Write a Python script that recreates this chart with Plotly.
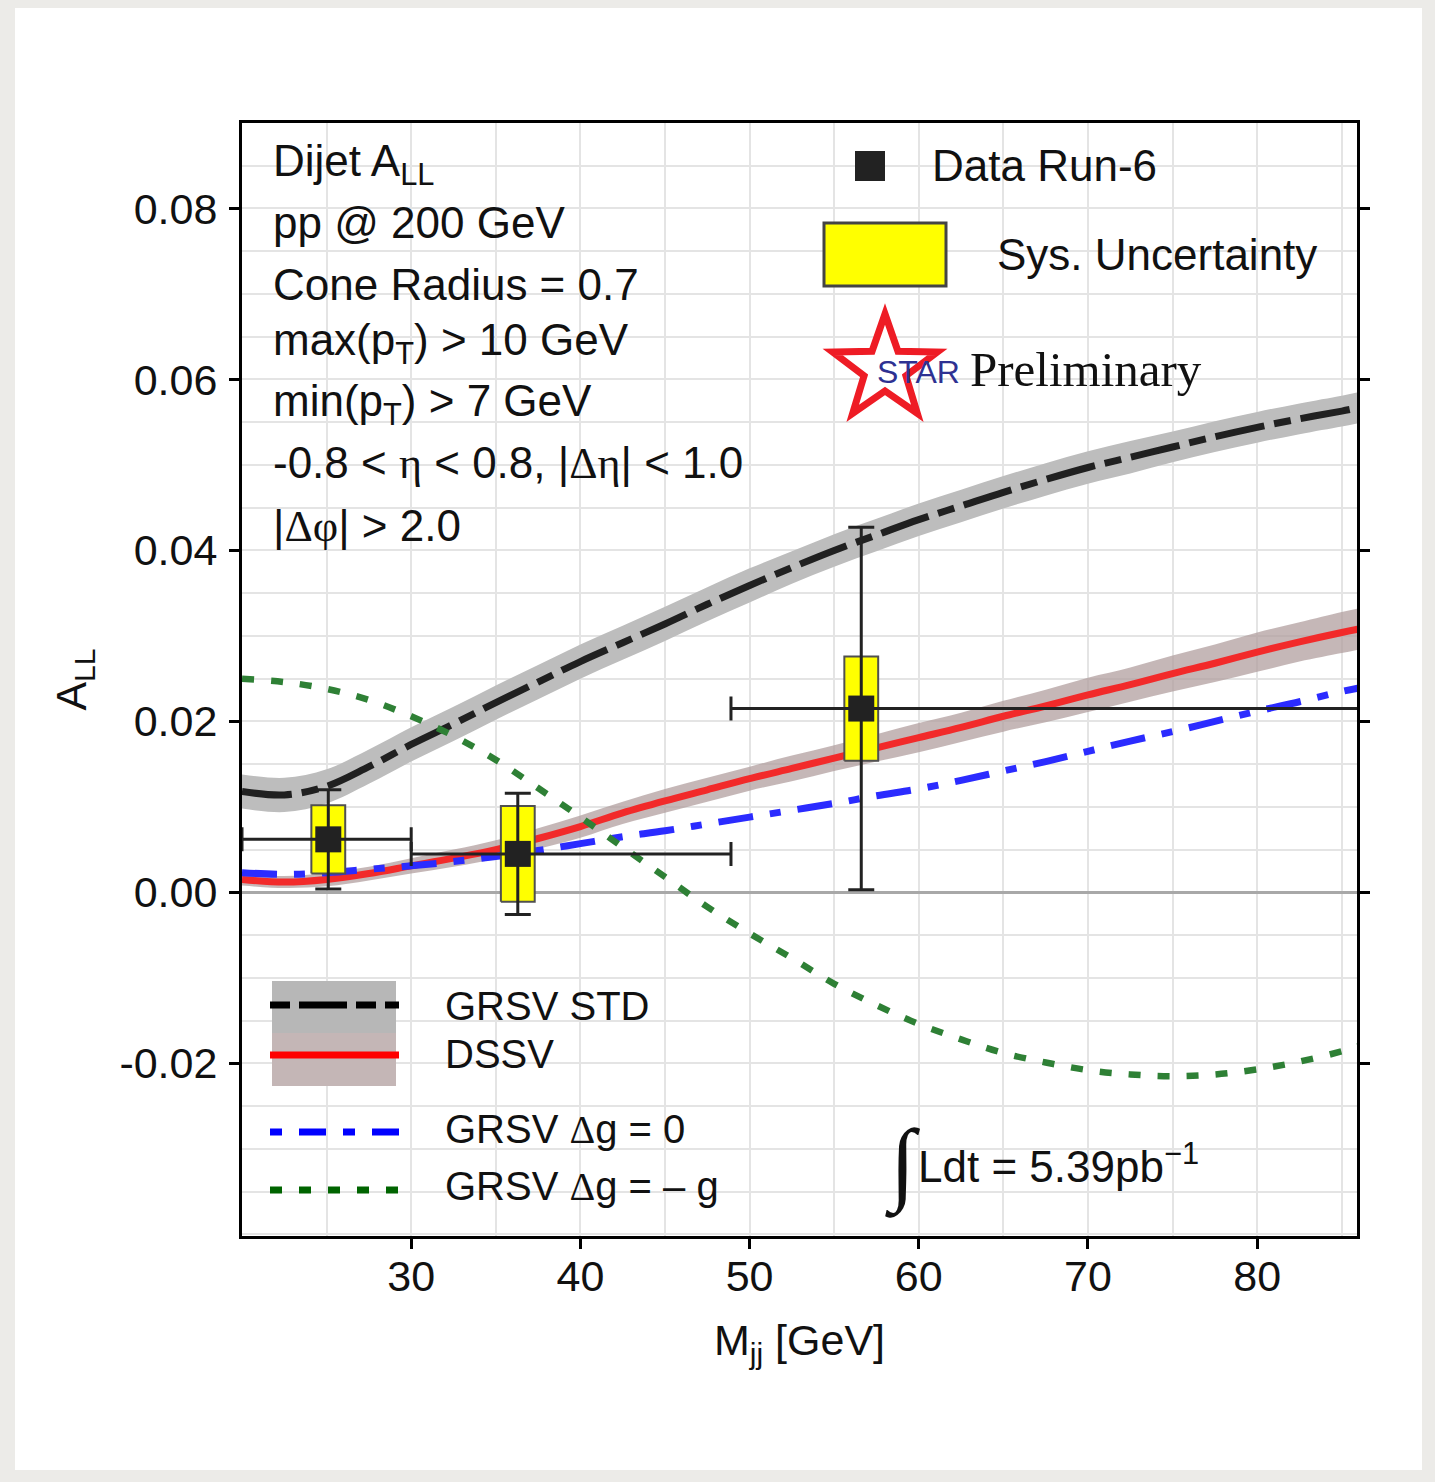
import math
import plotly.graph_objects as go

# ---------------- data ----------------
m_grid = [20, 22.5, 25, 27.5, 30, 32.5, 35, 37.5, 40, 42.5, 45, 47.5, 50, 52.5,
          55, 57.5, 60, 62.5, 65, 67.5, 70, 72.5, 75, 77.5, 80, 82.5, 85, 86]

grsv_std = [0.0118, 0.0114, 0.0124, 0.0147, 0.0173, 0.0197, 0.0222, 0.0246, 0.0270, 0.0292,
            0.0314, 0.0337, 0.0359, 0.0380, 0.0400, 0.0418, 0.0436, 0.0452, 0.0468, 0.0483,
            0.0497, 0.0509, 0.0521, 0.0533, 0.0544, 0.0554, 0.0563, 0.0567]
grsv_std_err = [0.0020, 0.0020, 0.0020, 0.0020, 0.0020, 0.0020, 0.0020, 0.0020, 0.0020, 0.0020,
                0.0020, 0.0020, 0.0020, 0.0019, 0.0019, 0.0019, 0.0019, 0.0019, 0.0019, 0.0019,
                0.0019, 0.0019, 0.0018, 0.0018, 0.0018, 0.0018, 0.0018, 0.0018]

dssv = [0.0015, 0.0012, 0.0015, 0.0022, 0.0031, 0.0040, 0.0050, 0.0063, 0.0077, 0.0093,
        0.0107, 0.0120, 0.0133, 0.0145, 0.0157, 0.0169, 0.0181, 0.0193, 0.0206, 0.0218,
        0.0231, 0.0243, 0.0256, 0.0268, 0.0281, 0.0293, 0.0304, 0.0308]
dssv_err = [0.0007, 0.0007, 0.0008, 0.0008, 0.0009, 0.0010, 0.0011, 0.0012, 0.0013, 0.0013,
            0.0014, 0.0014, 0.0014, 0.0015, 0.0015, 0.0016, 0.0017, 0.0017, 0.0018, 0.0019,
            0.0020, 0.0020, 0.0021, 0.0022, 0.0023, 0.0023, 0.0024, 0.0024]

grsv_g0 = [0.0023, 0.0021, 0.0023, 0.0027, 0.0031, 0.0036, 0.0042, 0.0049, 0.0057, 0.0065,
           0.0072, 0.0080, 0.0088, 0.0096, 0.0104, 0.0113, 0.0121, 0.0131, 0.0142, 0.0153,
           0.0165, 0.0177, 0.0188, 0.0200, 0.0212, 0.0223, 0.0235, 0.0239]

grsv_gneg = [0.0250, 0.0246, 0.0238, 0.0225, 0.0206, 0.0183, 0.0155, 0.0122, 0.0088, 0.0053,
             0.0018, -0.0017, -0.0048, -0.0077, -0.0107, -0.0132, -0.0154, -0.0172, -0.0188, -0.0199,
             -0.0208, -0.0213, -0.0215, -0.0213, -0.0207, -0.0198, -0.0186, -0.0180]

data_m = [25.1, 36.3, 56.6]
data_all = [0.0062, 0.0045, 0.0215]
data_stat = [0.0058, 0.0071, 0.0212]
data_sys = [0.0040, 0.0056, 0.0061]
bin_lo = [20.0, 30.0, 48.9]
bin_hi = [30.0, 48.9, 86.0]
sys_halfwidth = 1.0

x_ticks = [30, 40, 50, 60, 70, 80]
y_ticks = [-0.02, 0.0, 0.02, 0.04, 0.06, 0.08]

GREEK = "<span style='font-family:Liberation Serif'>{}</span>"
info_lines = [
    "Dijet A<sub>LL</sub>",
    "pp @ 200 GeV",
    "Cone Radius = 0.7",
    "max(p<sub>T</sub>) &gt; 10 GeV",
    "min(p<sub>T</sub>) &gt; 7 GeV",
    "-0.8 &lt; " + GREEK.format("η") + " &lt; 0.8, |" + GREEK.format("Δη") + "| &lt; 1.0",
    "|" + GREEK.format("Δφ") + "| &gt; 2.0",
]

# ---------------- layout geometry ----------------
W, H = 1435, 1482
L, R, T, B = 242, 1357, 123, 1236
SANS = "Liberation Sans, Arial, Helvetica, sans-serif"
SERIF = "Liberation Serif, Times New Roman, serif"


def fx(p):
    return (p - L) / (R - L)


def fy(p):
    return (B - p) / (B - T)


fig = go.Figure()

# bands
lo = [v - e for v, e in zip(grsv_std, grsv_std_err)]
hi = [v + e for v, e in zip(grsv_std, grsv_std_err)]
fig.add_trace(go.Scatter(x=m_grid, y=lo, mode="lines", line=dict(width=0, shape="spline"),
                         hoverinfo="skip", showlegend=False))
fig.add_trace(go.Scatter(x=m_grid, y=hi, mode="lines", line=dict(width=0, shape="spline"),
                         fill="tonexty", fillcolor="#BDBDBD", hoverinfo="skip", showlegend=False))
lo = [v - e for v, e in zip(dssv, dssv_err)]
hi = [v + e for v, e in zip(dssv, dssv_err)]
fig.add_trace(go.Scatter(x=m_grid, y=lo, mode="lines", line=dict(width=0, shape="spline"),
                         hoverinfo="skip", showlegend=False))
fig.add_trace(go.Scatter(x=m_grid, y=hi, mode="lines", line=dict(width=0, shape="spline"),
                         fill="tonexty", fillcolor="rgba(175,155,155,0.72)", hoverinfo="skip",
                         showlegend=False))

# theory curves
fig.add_trace(go.Scatter(x=m_grid, y=grsv_std, mode="lines", name="GRSV STD",
                         line=dict(color="#202020", width=7, dash="50px,10px,17px,10px", shape="spline")))
fig.add_trace(go.Scatter(x=m_grid, y=dssv, mode="lines", name="DSSV",
                         line=dict(color="#F22A2A", width=7, shape="spline")))
fig.add_trace(go.Scatter(x=m_grid, y=grsv_g0, mode="lines", name="GRSV Δg = 0",
                         line=dict(color="#2B2BFF", width=7, dash="35px,17px,11px,17px", shape="spline")))
fig.add_trace(go.Scatter(x=m_grid, y=grsv_gneg, mode="lines", name="GRSV Δg = -g",
                         line=dict(color="#2E8035", width=6.5, dash="12px,17px", shape="spline")))

# systematic boxes
for xc, yc, s in zip(data_m, data_all, data_sys):
    xs = [xc - sys_halfwidth, xc + sys_halfwidth, xc + sys_halfwidth, xc - sys_halfwidth, xc - sys_halfwidth]
    ys = [yc - s, yc - s, yc + s, yc + s, yc - s]
    fig.add_trace(go.Scatter(x=xs, y=ys, mode="lines", fill="toself", fillcolor="#FFFF00",
                             line=dict(color="#505050", width=2), hoverinfo="skip", showlegend=False))

# data points
fig.add_trace(go.Scatter(
    x=data_m, y=data_all, mode="markers", name="Data Run-6",
    marker=dict(symbol="square", size=26, color="#222222"),
    error_y=dict(type="data", array=data_stat, color="#222222", thickness=3, width=13),
    error_x=dict(type="data", symmetric=False,
                 array=[h - m for h, m in zip(bin_hi, data_m)],
                 arrayminus=[m - l for m, l in zip(data_m, bin_lo)],
                 color="#222222", thickness=3, width=12),
))

# ---------------- shapes ----------------
shapes = []
# white card
shapes.append(dict(type="rect", xref="paper", yref="paper", x0=fx(15), x1=fx(1422), y0=fy(8), y1=fy(1470),
                   fillcolor="white", line=dict(width=0), layer="below"))
# legend backgrounds hiding the grid
shapes.append(dict(type="rect", xref="paper", yref="paper", x0=fx(244), x1=fx(419), y0=fy(980), y1=fy(1086),
                   fillcolor="white", line=dict(width=0), layer="between"))
shapes.append(dict(type="rect", xref="paper", yref="paper", x0=fx(244), x1=fx(732), y0=fy(1107), y1=fy(1152),
                   fillcolor="white", line=dict(width=0), layer="between"))
# bottom-left legend keys
shapes.append(dict(type="rect", xref="paper", yref="paper", x0=fx(272), x1=fx(396), y0=fy(981), y1=fy(1033),
                   fillcolor="#B7B7B7", line=dict(width=0), layer="above"))
shapes.append(dict(type="rect", xref="paper", yref="paper", x0=fx(272), x1=fx(396), y0=fy(1033), y1=fy(1086),
                   fillcolor="#C4B6B6", line=dict(width=0), layer="above"))
shapes.append(dict(type="line", xref="paper", yref="paper", x0=fx(270), x1=fx(399), y0=fy(1005), y1=fy(1005),
                   line=dict(color="#000000", width=7, dash="20px,9px,48px,9px"), layer="above"))
shapes.append(dict(type="line", xref="paper", yref="paper", x0=fx(270), x1=fx(399), y0=fy(1055), y1=fy(1055),
                   line=dict(color="#FF0000", width=7), layer="above"))
shapes.append(dict(type="line", xref="paper", yref="paper", x0=fx(270), x1=fx(399), y0=fy(1132), y1=fy(1132),
                   line=dict(color="#0000FF", width=7, dash="12px,17px,27px,17px"), layer="above"))
shapes.append(dict(type="line", xref="paper", yref="paper", x0=fx(270), x1=fx(399), y0=fy(1190), y1=fy(1190),
                   line=dict(color="#006400", width=7, dash="12px,17px"), layer="above"))
# top-right legend keys
shapes.append(dict(type="rect", xref="paper", yref="paper", x0=fx(855), x1=fx(885), y0=fy(151), y1=fy(181),
                   fillcolor="#222222", line=dict(width=0), layer="above"))
shapes.append(dict(type="rect", xref="paper", yref="paper", x0=fx(824), x1=fx(946), y0=fy(223), y1=fy(286),
                   fillcolor="#FFFF00", line=dict(color="#444444", width=3), layer="above"))
# STAR logo star (outline)
cx, cy, Ro, Ri = 885, 369, 55, 22
pts = []
for k in range(10):
    a = math.radians(-90 + 36 * k)
    rad = Ro if k % 2 == 0 else Ri
    pts.append((fx(cx + rad * math.cos(a)), fy(cy + rad * math.sin(a))))
path = "M " + " L ".join(f"{px:.5f},{py:.5f}" for px, py in pts) + " Z"
shapes.append(dict(type="path", xref="paper", yref="paper", path=path, fillcolor="white",
                   line=dict(color="#EE1C25", width=7), layer="above"))

# ---------------- annotations ----------------
ann = []


def text_at(text, x, baseline, size, family=SANS, color="#111111", ascent=0.905):
    ann.append(dict(text=text, xref="paper", yref="paper", x=fx(x - 2), y=fy(baseline - ascent * size - 2),
                    xanchor="left", yanchor="top", showarrow=False,
                    font=dict(family=family, size=size, color=color)))


baselines = [176, 238, 300, 355, 416, 478, 541]
for line, b in zip(info_lines, baselines):
    text_at(line, 273, b, 44)

text_at("Data Run-6", 932, 181, 44)
text_at("Sys. Uncertainty", 997, 270, 44)
text_at("STAR", 877, 383, 32, color="#2E3192")
text_at("Preliminary", 970, 386, 49, family=SERIF, color="#111111", ascent=0.891)

text_at("GRSV STD", 445, 1020, 40)
text_at("DSSV", 445, 1068, 40)
text_at("GRSV " + GREEK.format("Δ") + "g = 0", 445, 1143, 40)
text_at("GRSV " + GREEK.format("Δ") + "g = – g", 445, 1200, 40)

# luminosity
ann.append(dict(text="Ldt = 5.39pb<sup>−1</sup>", xref="paper", yref="paper", x=fx(916),
                y=fy(1182 + 0.212 * 44 + 2), xanchor="left", yanchor="bottom", showarrow=False,
                font=dict(family=SANS, size=44, color="#111111")))
ann.append(dict(text="∫", xref="paper", yref="paper", x=fx(902), y=fy(1164), xanchor="center",
                yanchor="middle", showarrow=False, font=dict(family=SERIF, size=92, color="#111111")))

fig.update_layout(
    width=W, height=H,
    margin=dict(l=L, r=W - R, t=T, b=H - B, pad=0),
    paper_bgcolor="#ECEBE8",
    plot_bgcolor="white",
    showlegend=False,
    hovermode=False,
    shapes=shapes,
    annotations=ann,
    font=dict(family=SANS, size=43, color="#111111"),
)

fig.update_xaxes(
    range=[20, 85.9], tickmode="array", tickvals=x_ticks, ticktext=[str(v) for v in x_ticks],
    ticks="outside", ticklen=10, tickwidth=2.5, tickcolor="black",
    showline=True, linewidth=3, linecolor="black", mirror=True,
    showgrid=True, gridcolor="#E4E4E4", gridwidth=2, zeroline=False,
    minor=dict(tickmode="linear", tick0=0, dtick=5, showgrid=True, gridcolor="#E4E4E4", gridwidth=2, ticks=""),
    tickfont=dict(size=43, color="#111111", family=SANS),
    ticklabelstandoff=-10,
    title=dict(text="M<sub>jj</sub> [GeV]", font=dict(size=43, color="#111111", family=SANS), standoff=27),
)
fig.update_yaxes(
    range=[-0.0402, 0.09], tickmode="array", tickvals=y_ticks, ticktext=[f"{v:.2f}" for v in y_ticks],
    ticks="outside", ticklen=10, tickwidth=2.5, tickcolor="black",
    showline=True, linewidth=3, linecolor="black", mirror="allticks",
    showgrid=True, gridcolor="#E4E4E4", gridwidth=2,
    zeroline=True, zerolinecolor="#A8A8A8", zerolinewidth=3,
    minor=dict(tickmode="linear", tick0=0, dtick=0.005, showgrid=True, gridcolor="#E4E4E4", gridwidth=2, ticks=""),
    tickfont=dict(size=43, color="#111111", family=SANS),
    ticklabelstandoff=3,
    title=dict(text="A<sub>LL</sub>", font=dict(size=43, color="#111111", family=SANS), standoff=20),
)

fig.write_html("out.html", config={"displayModeBar": False},
               post_script="document.body.style.margin='0px';document.body.style.overflow='hidden';")
